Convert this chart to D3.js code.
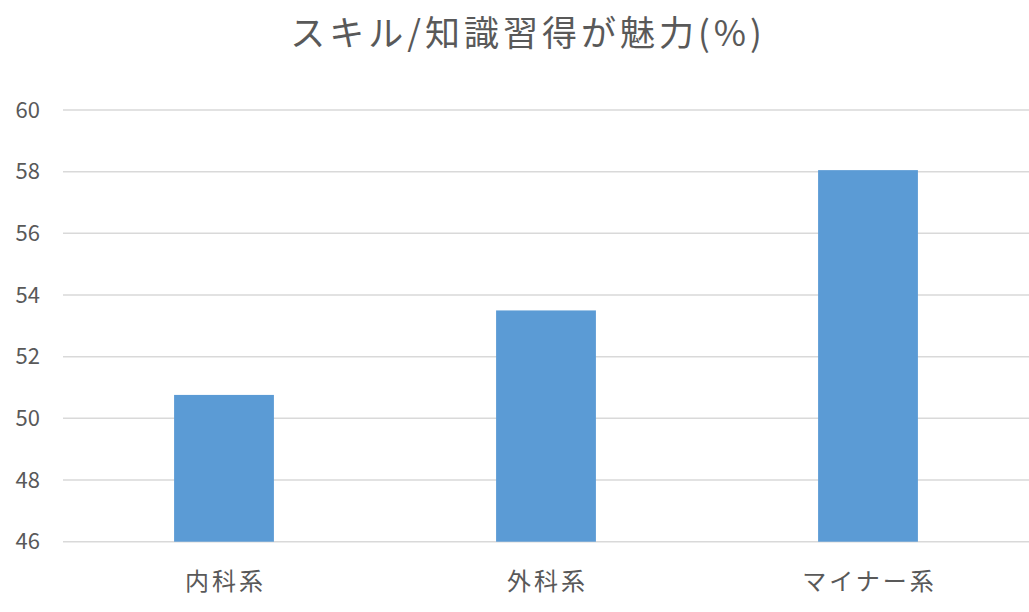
<!DOCTYPE html>
<html>
<head>
<meta charset="utf-8">
<script src="https://cdn.jsdelivr.net/npm/d3@7"></script>
<style>
  body { margin: 0; background: #fff; }
  text { font-family: "Noto Sans CJK JP", "Noto Sans", sans-serif; fill: #595959; }
</style>
</head>
<body>
<div id="chart"></div>
<script>
const categories = ['内科系', '外科系', 'マイナー系'];
const values = [50.76, 53.5, 58.05];
const yTicks = [46, 48, 50, 52, 54, 56, 58, 60];
const title = 'スキル/知識習得が魅力(%)';

const width = 1029, height = 612;
const margin = { top: 110, right: 0, bottom: 70, left: 63 };

const svg = d3.select('#chart').append('svg')
  .attr('width', width)
  .attr('height', height);

const x = d3.scaleBand()
  .domain(categories)
  .range([margin.left, width - margin.right])
  .paddingInner(0.69)
  .paddingOuter(0.345);

const y = d3.scaleLinear()
  .domain([46, 60])
  .range([541.7, margin.top]);

// gridlines
svg.append('g')
  .selectAll('line')
  .data(yTicks)
  .join('line')
  .attr('x1', margin.left)
  .attr('x2', width)
  .attr('y1', d => y(d))
  .attr('y2', d => y(d))
  .attr('stroke', '#d9d9d9')
  .attr('stroke-width', 1.5);

// y labels
const yAxis = svg.append('g')
  .attr('transform', 'translate(40,0)')
  .call(d3.axisLeft(y).tickValues(yTicks).tickSize(0).tickPadding(0));
yAxis.select('.domain').remove();
yAxis.selectAll('text')
  .attr('font-size', 22)
  .attr('font-family', null)
  .attr('fill', '#595959');

// bars
svg.append('g')
  .selectAll('rect')
  .data(values)
  .join('rect')
  .attr('x', (d, i) => x(categories[i]))
  .attr('width', x.bandwidth())
  .attr('y', d => y(d))
  .attr('height', d => y(46) - y(d))
  .attr('fill', '#5b9bd5');

// x labels
const xAxis = svg.append('g')
  .attr('transform', 'translate(0,' + y(46) + ')')
  .call(d3.axisBottom(x).tickSize(0).tickPadding(0));
xAxis.select('.domain').remove();
xAxis.selectAll('text')
  .attr('dy', null)
  .attr('y', 48)
  .attr('dx', 1.5)
  .attr('font-size', 24)
  .attr('letter-spacing', 3)
  .attr('font-family', null)
  .attr('fill', '#595959');

// title
svg.append('text')
  .attr('x', 528)
  .attr('y', 46)
  .attr('text-anchor', 'middle')
  .attr('font-size', 35)
  .attr('letter-spacing', 4)
  .text(title);
</script>
</body>
</html>
